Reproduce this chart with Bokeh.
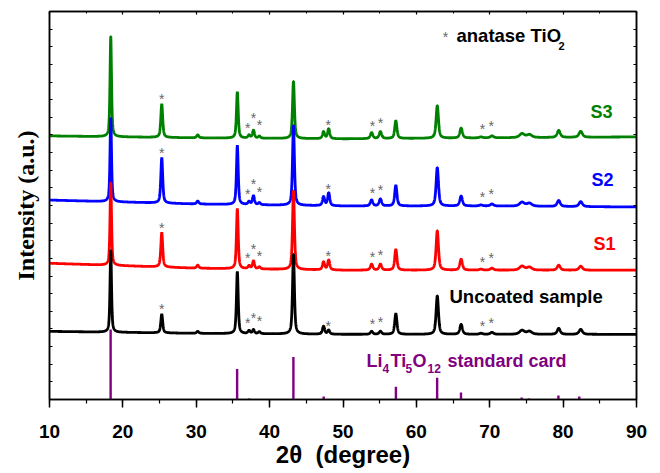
import numpy as np
from bokeh.plotting import figure
from bokeh.models import Range1d, LinearAxis, SingleIntervalTicker, FixedTicker, Label
from bokeh.embed import file_html
from bokeh.resources import INLINE
from bokeh.core.properties import value

# ---------------- data ----------------
two_theta_range = (10, 90)
intensity_range = (0, 393)

# reflections seen in the measured patterns (2-theta, degree)
peak_pos = [18.35, 25.3, 30.2, 35.6, 37.2, 37.8, 38.6, 43.25, 47.35, 48.05,
            53.9, 55.1, 57.2, 62.85, 66.1, 68.8, 70.3, 74.4, 75.4, 79.4, 82.4]
peak_fwhm = [0.24, 0.30, 0.35, 0.28, 0.35, 0.32, 0.35, 0.30, 0.35, 0.35,
             0.40, 0.40, 0.36, 0.38, 0.42, 0.5, 0.5, 0.8, 0.8, 0.5, 0.55]
# peak heights above the baseline (a.u.)
h_s3 = [102, 34, 3, 47, 3, 8, 2, 58, 7, 10, 6, 7, 18, 33, 10, 1, 2, 4, 3, 7, 6]
h_s2 = [85, 46, 3, 60, 3, 9, 2, 81, 9, 13, 6, 7, 21, 39, 10, 1, 2, 4, 3, 6, 5]
h_s1 = [84, 35, 3, 61, 3, 8, 2, 80, 8, 10, 6, 6, 21, 40, 11, 1, 2, 4, 3, 5, 4]
h_unc = [83, 19, 2, 63, 3, 4, 2, 81, 8, 4, 3, 3, 21, 39, 10, 1, 2, 4, 3, 6, 5]

# baselines (stacked offsets) at a few 2-theta values
base_x = [10, 30, 50, 70, 90]
base_s3 = [267, 265, 264, 265, 266]
base_s2 = [202, 198, 196, 196, 195]
base_s1 = [138, 133, 131, 131, 131]
base_unc = [69, 67, 66, 66, 66]

# Li4Ti5O12 standard card
card_pos = [18.33, 35.57, 37.2, 43.24, 47.37, 57.21, 62.83, 66.08, 74.35, 75.35, 79.36, 82.2]
card_h = [71, 31, 1, 43, 3, 13, 22, 7, 2, 1, 4, 3]

# anatase TiO2 reflections marked with *
anatase_pos = [25.3, 37.0, 37.8, 38.6, 48.0, 54.0, 55.1, 69.0, 70.2]

series_names = ["S3", "S2", "S1", "Uncoated sample"]
series_colors = ["#008000", "#0000ff", "#ff0000", "#000000"]

# ---------------- build the curves ----------------
xs = np.arange(10, 90.001, 0.02)


def profile(x, heights, base):
    y = np.interp(x, base_x, base).astype(float)
    for c, h, w in zip(peak_pos, heights, peak_fwhm):
        g = w / 2.0
        d = ((x - c) / g) ** 2
        y = y + h * (0.6 / (1 + d) + 0.4 * np.exp(-np.log(2) * d))
    return y


p = figure(width=655, height=470,
           x_range=Range1d(*two_theta_range), y_range=Range1d(*intensity_range),
           output_backend="svg", toolbar_location=None,
           min_border_left=49, min_border_right=19, min_border_top=11, min_border_bottom=66)
p.background_fill_color = "white"
p.border_fill_color = "white"
p.outline_line_color = "black"
p.outline_line_width = 1.5
p.xgrid.visible = False
p.ygrid.visible = False

curves = {}
for name, hh, bb, col in zip(series_names, [h_s3, h_s2, h_s1, h_unc],
                             [base_s3, base_s2, base_s1, base_unc], series_colors):
    ys = profile(xs, hh, bb)
    curves[name] = ys
    p.line(xs, ys, line_color=col, line_width=2.8)

p.segment(x0=card_pos, y0=[0] * len(card_pos), x1=card_pos, y1=card_h,
          line_color="#800080", line_width=2.4)

# asterisks
ast_gap = [7, 11, 14, 13, 6, 10, 11, 10, 12]
ax_, ay_ = [], []
for name in series_names:
    ys = curves[name]
    for xa, gp in zip(anatase_pos, ast_gap):
        ax_.append(xa)
        ay_.append(float(np.interp(xa, xs, ys)) + gp - 2)
p.text(x=ax_, y=ay_, text=["*"] * len(ax_), text_font=value("Liberation Sans"),
       text_font_size="14px", text_color="#666666", text_align="center",
       text_baseline="alphabetic")

# ---------------- axes ----------------
ax = p.xaxis[0]
ax.ticker = SingleIntervalTicker(interval=10, num_minor_ticks=2)
ax.axis_line_width = 1.5
ax.major_tick_line_width = 1.5
ax.minor_tick_line_width = 1.2
ax.major_tick_out = 8
ax.major_tick_in = 0
ax.minor_tick_out = 4
ax.minor_tick_in = 0
ax.major_label_text_font = "Liberation Sans"
ax.major_label_text_font_style = "bold"
ax.major_label_text_font_size = "19px"
ax.major_label_text_color = "black"
ax.major_label_standoff = 17
ax.axis_label = "2\u03b8\u00a0 (degree)"
ax.axis_label_text_font = "Liberation Sans"
ax.axis_label_text_font_style = "bold"
ax.axis_label_text_font_size = "24px"
ax.axis_label_text_color = "black"
ax.axis_label_standoff = 0

yticks = [i * 393 / 22 for i in range(23)]
ay = p.yaxis[0]
ay.ticker = FixedTicker(ticks=yticks)
ay.axis_line_width = 1.5
ay.major_tick_in = 3
ay.major_tick_out = 0
ay.major_tick_line_width = 1.2
ay.minor_tick_line_color = None
ay.major_label_text_font_size = "1px"
ay.major_label_text_color = None
ay.major_label_standoff = 0
ay.axis_label = "Intensity (a.u.)"
ay.axis_label_text_font = "Liberation Serif"
ay.axis_label_text_font_style = "bold"
ay.axis_label_text_font_size = "24px"
ay.axis_label_text_color = "black"
ay.axis_label_standoff = 11

top = LinearAxis(ticker=SingleIntervalTicker(interval=10, num_minor_ticks=2),
                 major_label_text_font_size="1px", major_label_text_color=None,
                 major_label_standoff=0,
                 major_tick_in=3, major_tick_out=0, minor_tick_in=2, minor_tick_out=0,
                 axis_line_width=1.5, major_tick_line_width=1.2, minor_tick_line_width=1.0)
p.add_layout(top, "above")
right = LinearAxis(ticker=FixedTicker(ticks=yticks),
                   major_label_text_font_size="1px", major_label_text_color=None,
                   major_label_standoff=0,
                   major_tick_in=3, major_tick_out=0, minor_tick_line_color=None,
                   axis_line_width=1.5, major_tick_line_width=1.2)
p.add_layout(right, "right")


# ---------------- annotations ----------------
def X(px):
    return (px - 49) / 7.3375 + 10


def Y(py):
    return 404 - py


def lab(text, px, py, color="black", size="18px", align="left", bold=True, font="Liberation Sans"):
    p.add_layout(Label(x=X(px), y=Y(py), text=text, text_color=color, text_font=font,
                       text_font_size=size, text_font_style="bold" if bold else "normal",
                       text_align=align, text_baseline="middle"))


p.add_layout(Label(x=X(445), y=Y(37), text="*", text_color="#666666", text_font="Liberation Sans",
                   text_font_size="14px", text_align="center", text_baseline="alphabetic"))
lab("anatase TiO", 456, 35, size="18.5px")
lab("2", 558, 46, size="11px")

lab("S3", 601, 113, color=series_colors[0], align="center")
lab("S2", 602, 182, color=series_colors[1], align="center")
lab("S1", 604, 247, color=series_colors[2], align="center")
lab("Uncoated sample", 449, 300, size="18.5px")

purple = "#800080"
lab("Li", 366, 365, color=purple)
lab("4", 382, 373, color=purple, size="12px")
lab("Ti", 390, 365, color=purple)
lab("5", 405, 373, color=purple, size="12px")
lab("O", 412, 365, color=purple)
lab("12", 427, 373, color=purple, size="12px")
lab("standard card", 447, 365, color=purple)

open("out.html", "w").write(file_html(p, INLINE))
